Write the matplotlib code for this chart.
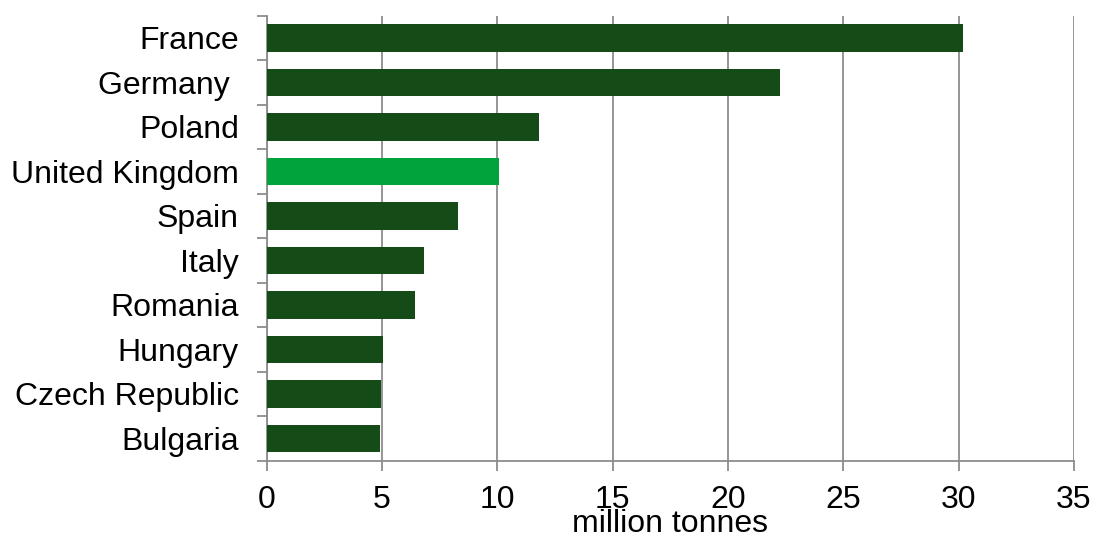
import matplotlib

matplotlib.use("Agg")
import matplotlib.pyplot as plt
import numpy as np

plt.rcParams["font.family"] = ["Liberation Sans", "DejaVu Sans"]

countries = ["France", "Germany ", "Poland", "United Kingdom", "Spain",
             "Italy", "Romania", "Hungary", "Czech Republic", "Bulgaria"]
values = [30.2, 22.25, 11.8, 10.05, 8.3, 6.8, 6.45, 5.05, 4.95, 4.9]
highlight = "United Kingdom"

DARK = "#154b16"
BRIGHT = "#00a33c"
GREY = "#8c8c8c"
FS = 23

fig = plt.figure(figsize=(11.02, 5.38), dpi=100)
ax = fig.add_axes([0.242, 0.1437, 0.7326, 0.8271])

y = np.arange(len(countries))
colors = [BRIGHT if c == highlight else DARK for c in countries]
ax.barh(y, values, height=0.62, color=colors, zorder=3)

ax.set_xlim(0, 35)
ax.set_ylim(len(countries) - 0.5, -0.5)
ax.set_xticks(np.arange(0, 36, 5))
ax.set_yticks(y)
ax.set_yticklabels(countries)
ax.set_yticks(np.arange(-0.5, len(countries), 1), minor=True)

ax.grid(axis="x", color=GREY, linewidth=1.3, zorder=0)
for side in ["top", "right"]:
    ax.spines[side].set_visible(False)
for side in ["left", "bottom"]:
    ax.spines[side].set_color(GREY)
    ax.spines[side].set_linewidth(1.3)

ax.tick_params(axis="y", which="major", length=0, pad=20, labelsize=FS)
ax.tick_params(axis="y", which="minor", length=7, width=1.3, color=GREY, direction="out")
ax.tick_params(axis="x", which="major", length=7.5, width=1.3, color=GREY,
               direction="out", pad=10, labelsize=FS)

ax.set_xlabel("million tonnes", fontsize=FS, labelpad=-4)

fig.savefig("out.png", dpi=100)
